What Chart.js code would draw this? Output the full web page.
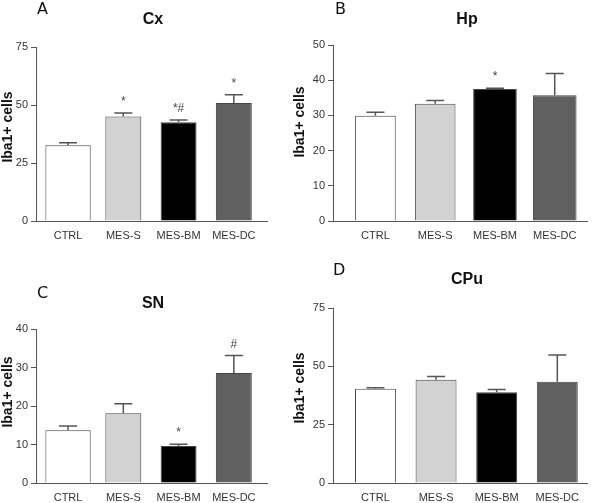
<!DOCTYPE html>
<html>
<head>
<meta charset="utf-8">
<script src="https://cdn.jsdelivr.net/npm/chart.js@4"></script>
<style>
  body { margin: 0; background: #fff; width: 600px; height: 503px; position: relative; overflow: hidden; }
  canvas { position: absolute; }
</style>
</head>
<body>
<canvas id="cA" width="290" height="250" style="left:0;top:0"></canvas>
<canvas id="cB" width="310" height="250" style="left:290px;top:0"></canvas>
<canvas id="cC" width="290" height="253" style="left:0;top:250px"></canvas>
<canvas id="cD" width="310" height="253" style="left:290px;top:250px"></canvas>
<script>
var groups = ["CTRL", "MES-S", "MES-BM", "MES-DC"];
var barColors = ["#ffffff", "#d2d2d2", "#000000", "#606060"];
var yLabel = "Iba1+ cells";

var cxMeans = [32.7, 45.0, 42.6, 50.9];
var cxSem = [1.0, 1.6, 0.9, 3.5];
var cxMarks = ["", "*", "*#", "*"];
var cxTicks = [0, 25, 50, 75];

var hpMeans = [29.9, 33.3, 37.5, 35.7];
var hpSem = [1.0, 0.9, 0.2, 6.2];
var hpMarks = ["", "", "*", ""];
var hpTicks = [0, 10, 20, 30, 40, 50];

var snMeans = [13.7, 18.1, 9.6, 28.6];
var snSem = [1.1, 2.5, 0.45, 4.5];
var snMarks = ["", "", "*", "#"];
var snTicks = [0, 10, 20, 30, 40];

var cpuMeans = [40.4, 44.3, 38.9, 43.4];
var cpuSem = [0.4, 1.3, 1.2, 11.5];
var cpuMarks = ["", "", "", ""];
var cpuTicks = [0, 25, 50, 75];

function panel(id, letter, title, means, sem, marks, yTicks, box) {
  var canvas = document.getElementById(id);
  var W = canvas.width, H = canvas.height;

  // one dataset per bar so each bar can keep its own width
  var datasets = means.map(function (m, i) {
    return {
      data: [{ x: i, y: m }],
      backgroundColor: barColors[i],
      borderColor: "#444",
      borderWidth: 1,
      barPercentage: box.widths[i],
      categoryPercentage: 1,
      grouped: false
    };
  });

  // error bars, significance marks, panel letter, title, y label
  var decor = {
    id: "decor",
    afterDatasetsDraw: function (chart) {
      var ctx = chart.ctx;
      var y = chart.scales.y;
      ctx.save();
      ctx.strokeStyle = "#555";
      ctx.lineWidth = 1.5;
      for (var i = 0; i < means.length; i++) {
        var bar = chart.getDatasetMeta(i).data[0];
        var cx = bar.x;
        var half = 9;
        var y0 = y.getPixelForValue(means[i]);
        var y1 = y.getPixelForValue(means[i] + sem[i]);
        ctx.beginPath();
        ctx.moveTo(cx, y0);
        ctx.lineTo(cx, y1);
        ctx.moveTo(cx - half, y1);
        ctx.lineTo(cx + half, y1);
        ctx.stroke();
        if (marks[i]) {
          ctx.fillStyle = "#444";
          ctx.font = "12px 'Liberation Sans'";
          ctx.textAlign = "center";
          ctx.textBaseline = "alphabetic";
          ctx.fillText(marks[i], cx, y1 - 8);
        }
      }
      ctx.fillStyle = "#111";
      ctx.textAlign = "left";
      ctx.textBaseline = "alphabetic";
      ctx.font = "16px 'DejaVu Sans'";
      ctx.fillText(letter, box.letterX, box.letterY);
      ctx.textAlign = "center";
      ctx.textBaseline = "middle";
      ctx.font = "bold 16px 'Liberation Sans'";
      ctx.fillText(title, box.titleX, box.titleY);
      ctx.translate(box.labX, box.labY);
      ctx.rotate(-Math.PI / 2);
      ctx.font = "bold 14px 'Liberation Sans'";
      ctx.fillText(yLabel, 0, 0);
      ctx.restore();
    }
  };

  new Chart(canvas, {
    type: "bar",
    data: { datasets: datasets },
    options: {
      responsive: false,
      animation: false,
      layout: { padding: { left: 0, right: W - box.right, top: box.top, bottom: H - box.bottom - 24 } },
      plugins: { legend: { display: false }, tooltip: { enabled: false } },
      scales: {
        x: {
          type: "linear",
          min: box.xMin,
          max: box.xMax,
          offset: false,
          afterBuildTicks: function (a) { a.ticks = groups.map(function (g, i) { return { value: i }; }); },
          afterFit: function (a) { a.height = 24; },
          ticks: {
            callback: function (v) { return groups[v]; },
            font: { family: "Liberation Sans", size: 11 },
            color: "#333",
            padding: 8,
            maxRotation: 0,
            autoSkip: false
          },
          grid: { display: true, drawOnChartArea: false, drawTicks: false, color: "#555" },
          border: { color: "#555" }
        },
        y: {
          min: 0,
          max: yTicks[yTicks.length - 1],
          afterBuildTicks: function (a) { a.ticks = yTicks.map(function (v) { return { value: v }; }); },
          afterFit: function (a) { a.width = box.left; },
          ticks: { font: { family: "Liberation Sans", size: 11 }, color: "#333", padding: 3 },
          grid: { drawOnChartArea: false, tickLength: 5, color: "#555" },
          border: { color: "#555" }
        }
      }
    },
    plugins: [decor]
  });
}

panel("cA", "A", "Cx", cxMeans, cxSem, cxMarks, cxTicks,
  { left: 36, right: 267, top: 47, bottom: 221, xMin: -0.58, xMax: 3.6, widths: [0.82, 0.65, 0.65, 0.65],
    letterX: 37, letterY: 14, titleX: 153, titleY: 20, labX: 8, labY: 127 });
panel("cB", "B", "Hp", hpMeans, hpSem, hpMarks, hpTicks,
  { left: 43, right: 297, top: 45, bottom: 221, xMin: -0.71, xMax: 3.54, widths: [0.68, 0.68, 0.73, 0.73],
    letterX: 45, letterY: 14, titleX: 177, titleY: 20, labX: 10, labY: 122 });
panel("cC", "C", "SN", snMeans, snSem, snMarks, snTicks,
  { left: 36, right: 267, top: 79, bottom: 233, xMin: -0.58, xMax: 3.6, widths: [0.82, 0.65, 0.65, 0.65],
    letterX: 37, letterY: 48, titleX: 153, titleY: 54, labX: 8, labY: 142 });
panel("cD", "D", "CPu", cpuMeans, cpuSem, cpuMarks, cpuTicks,
  { left: 43, right: 297, top: 58, bottom: 233, xMin: -0.7, xMax: 3.49, widths: [0.675, 0.675, 0.675, 0.675],
    letterX: 43, letterY: 25, titleX: 177, titleY: 30, labX: 10, labY: 138 });
</script>
</body>
</html>
